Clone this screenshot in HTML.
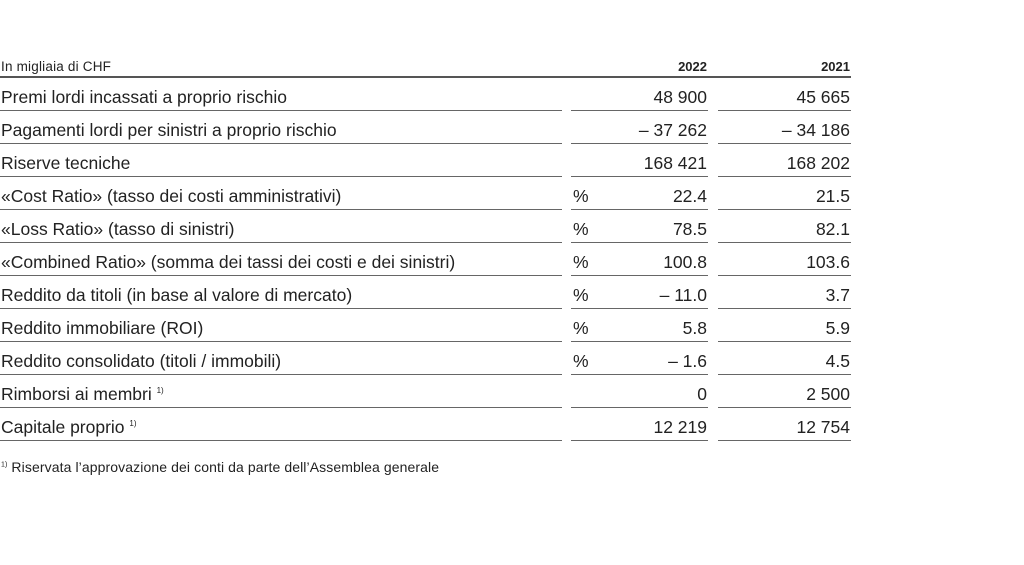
<!DOCTYPE html>
<html><head><meta charset="utf-8"><style>
html,body{margin:0;padding:0;background:#fff;}
body{width:1024px;height:565px;position:relative;overflow:hidden;font-family:"Liberation Sans",sans-serif;color:#222;}
.t{position:absolute;white-space:nowrap;}
.l{position:absolute;height:1px;background:#666;}
.r{text-align:right;}
</style></head><body>
<div class="t" style="left:1px;top:59px;font-size:13.5px;letter-spacing:0.2px">In migliaia di CHF</div>
<div class="t r" style="left:600px;width:107px;top:59px;font-size:13px;font-weight:bold;">2022</div>
<div class="t r" style="left:740px;width:110px;top:59px;font-size:13px;font-weight:bold;">2021</div>
<div class="l" style="left:0;width:851px;top:76px;height:2px;background:#555;"></div>
<div id="rows"></div>
<script>
const rows=[
["Premi lordi incassati a proprio rischio","","48 900","45 665"],
["Pagamenti lordi per sinistri a proprio rischio","","– 37 262","– 34 186"],
["Riserve tecniche","","168 421","168 202"],
["«Cost Ratio» (tasso dei costi amministrativi)","%","22.4","21.5"],
["«Loss Ratio» (tasso di sinistri)","%","78.5","82.1"],
["«Combined Ratio» (somma dei tassi dei costi e dei sinistri)","%","100.8","103.6"],
["Reddito da titoli (in base al valore di mercato)","%","– 11.0","3.7"],
["Reddito immobiliare (ROI)","%","5.8","5.9"],
["Reddito consolidato (titoli / immobili)","%","– 1.6","4.5"],
["Rimborsi ai membri <sup style='font-size:8px'>1)</sup>","","0","2 500"],
["Capitale proprio <sup style='font-size:8px'>1)</sup>","","12 219","12 754"]];
let h="";
rows.forEach((r,i)=>{const y=110+i*33;const ty=y-23;
h+=`<div class="t" style="left:1px;top:${ty}px;font-size:17.5px;letter-spacing:0px">${r[0]}</div>`;
if(r[1])h+=`<div class="t" style="left:573px;top:${ty}px;font-size:17.5px">${r[1]}</div>`;
h+=`<div class="t r" style="left:600px;width:107px;top:${ty}px;font-size:17.5px">${r[2]}</div>`;
h+=`<div class="t r" style="left:740px;width:110px;top:${ty}px;font-size:17.5px">${r[3]}</div>`;
h+=`<div class="l" style="left:0;width:562px;top:${y}px"></div><div class="l" style="left:571px;width:137px;top:${y}px"></div><div class="l" style="left:718px;width:133px;top:${y}px"></div>`;});
document.getElementById("rows").innerHTML=h;
</script>
<div class="t" style="left:1px;top:459px;font-size:14px;letter-spacing:0.1px"><sup style="font-size:7px">1)</sup> Riservata l’approvazione dei conti da parte dell’Assemblea generale</div>
</body></html>
